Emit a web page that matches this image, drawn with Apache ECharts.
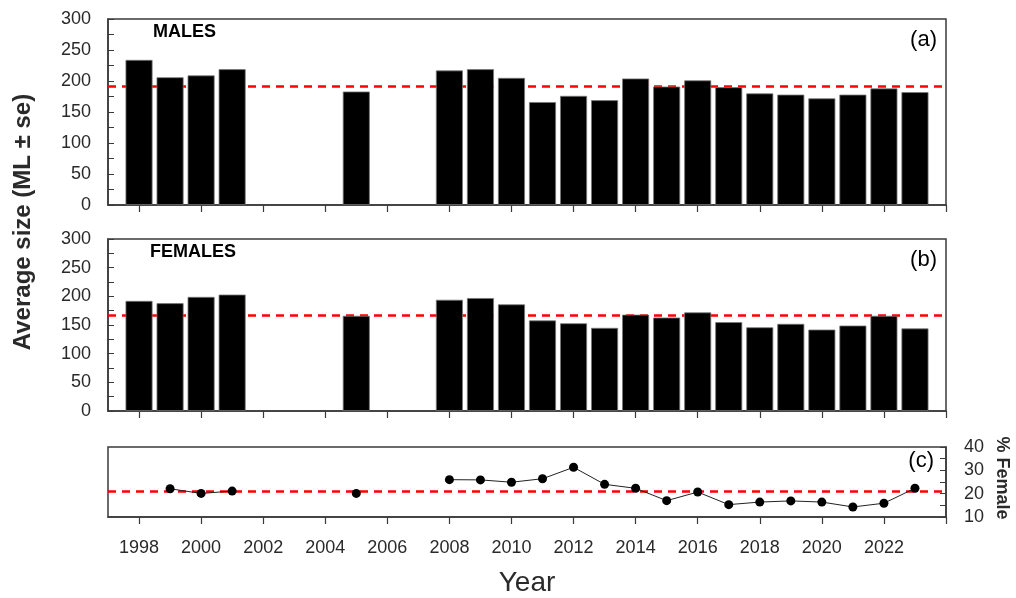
<!DOCTYPE html>
<html><head><meta charset="utf-8">
<script src="https://cdn.jsdelivr.net/npm/echarts@6/dist/echarts.min.js"></script>
<style>html,body{margin:0;padding:0;background:#fff}#c{width:1016px;height:598px}</style>
</head><body><div id="c"></div>
<script>
// ---- data ----
const barYears = [1998,1999,2000,2001,2005,2008,2009,2010,2011,2012,2013,2014,2015,2016,2017,2018,2019,2020,2021,2022,2023];
const males    = [234,206,209,219,183,217,219,205,166,176,169,204,191,201,190,180,178,172,178,188,182];
const females  = [192,188,199,203,166,194,197,186,158,153,145,168,163,172,155,146,152,142,149,166,144];
const pctYears = [1999,2000,2001,2005,2008,2009,2010,2011,2012,2013,2014,2015,2016,2017,2018,2019,2020,2021,2022,2023];
const pctFemale= [22.1,20.1,21.1,20.1,26.0,25.9,24.9,26.4,31.3,24.0,22.3,17.0,20.7,15.3,16.4,16.9,16.4,14.3,15.9,22.3];
const maleMean = 192;
const femaleMean = 167.5;
const pctMean = 21;
const yearTicks  = [1998,2000,2002,2004,2006,2008,2010,2012,2014,2016,2018,2020,2022,2024];
const yearLabels = [1998,2000,2002,2004,2006,2008,2010,2012,2014,2016,2018,2020,2022];
const sizeTicks = [0,50,100,150,200,250,300];
const pctTicks = [10,20,30,40];

// ---- helpers ----
const pair = (xs, ys) => xs.map((x, i) => [x, ys[i]]);
function withGaps(xs, ys) {
  const out = [];
  xs.forEach((x, i) => {
    if (i > 0 && x - xs[i - 1] > 1) out.push([xs[i - 1] + 1, '-']);
    out.push([x, ys[i]]);
  });
  return out;
}
const AX = '#3a3a3a';
const TXT = '#2a2a2a';
const FONT = 'Liberation Sans, Arial, sans-serif';
const L = 108, R = 70;

function xAxisDef(gridIndex, showLabels) {
  return {
    type: 'value', gridIndex, min: 1997, max: 2024,
    axisLine: { show: true, onZero: false, lineStyle: { color: AX, width: 1.5 } },
    axisTick: { show: true, inside: false, length: 7, customValues: yearTicks, lineStyle: { color: AX, width: 1.2 } },
    axisLabel: { show: showLabels, customValues: yearLabels, margin: 22, fontSize: 18, color: TXT, fontFamily: FONT,
                 formatter: v => String(v) },
    splitLine: { show: false }
  };
}
function sizeAxis(gridIndex) {
  return {
    type: 'value', gridIndex, min: sizeTicks[0], max: sizeTicks[sizeTicks.length - 1], interval: 50,
    axisLine: { show: true, lineStyle: { color: AX, width: 1.5 } },
    axisTick: { show: true, inside: true, length: 6, lineStyle: { color: AX, width: 1 } },
    minorTick: { show: true, splitNumber: 2, length: 6, lineStyle: { color: AX, width: 1 } },
    axisLabel: { margin: 17, fontSize: 18, color: TXT, fontFamily: FONT },
    splitLine: { show: false }
  };
}
function meanLine(v) {
  return {
    silent: true, symbol: 'none', z: 1,
    label: { show: false },
    lineStyle: { color: '#ff0000', width: 2.5, type: [8, 6] },
    data: [{ yAxis: v }]
  };
}
const barStyle = { color: '#000', borderColor: '#777', borderWidth: 0.8 };

const chart = echarts.init(document.getElementById('c'), null, { renderer: 'canvas' });
chart.setOption({
  animation: false,
  backgroundColor: '#fff',
  grid: [
    { left: L, right: R, top: 19, height: 186, show: true, borderColor: AX, borderWidth: 1.5, backgroundColor: 'transparent' },
    { left: L, right: R, top: 239, height: 172, show: true, borderColor: AX, borderWidth: 1.5, backgroundColor: 'transparent' },
    { left: L, right: R, top: 447, height: 70, show: true, borderColor: AX, borderWidth: 1.5, backgroundColor: 'transparent' }
  ],
  xAxis: [xAxisDef(0, false), xAxisDef(1, false), xAxisDef(2, true)],
  yAxis: [
    sizeAxis(0),
    sizeAxis(1),
    {
      type: 'value', gridIndex: 2, position: 'right', min: pctTicks[0], max: pctTicks[pctTicks.length - 1], interval: 10,
      axisLine: { show: true, lineStyle: { color: AX, width: 1.5 } },
      axisTick: { show: true, inside: true, length: 6, lineStyle: { color: AX, width: 1 } },
      minorTick: { show: true, splitNumber: 2, length: 6, lineStyle: { color: AX, width: 1 } },
      axisLabel: { margin: 18, fontSize: 18, color: TXT, fontFamily: FONT },
      splitLine: { show: false }
    }
  ],
  series: [
    { type: 'bar', xAxisIndex: 0, yAxisIndex: 0, barWidth: 27, itemStyle: barStyle, z: 2,
      data: pair(barYears, males), markLine: meanLine(maleMean) },
    { type: 'bar', xAxisIndex: 1, yAxisIndex: 1, barWidth: 27, itemStyle: barStyle, z: 2,
      data: pair(barYears, females), markLine: meanLine(femaleMean) },
    { type: 'line', xAxisIndex: 2, yAxisIndex: 2, z: 3, connectNulls: false,
      symbol: 'circle', symbolSize: 9, showSymbol: true,
      itemStyle: { color: '#000' }, lineStyle: { color: '#222', width: 1 },
      data: withGaps(pctYears, pctFemale), markLine: meanLine(pctMean) }
  ],
  graphic: [
    { type: 'text', left: 153, top: 23, style: { text: 'MALES', font: 'bold 18px ' + FONT, fill: '#000' } },
    { type: 'text', left: 150, top: 243, style: { text: 'FEMALES', font: 'bold 18px ' + FONT, fill: '#000' } },
    { type: 'text', right: 79, top: 29, style: { text: '(a)', font: '22px ' + FONT, fill: '#000' } },
    { type: 'text', right: 79, top: 249, style: { text: '(b)', font: '22px ' + FONT, fill: '#000' } },
    { type: 'text', right: 82, top: 450, style: { text: '(c)', font: '22px ' + FONT, fill: '#000' } },
    { type: 'text', x: 23, y: 222, rotation: Math.PI / 2,
      style: { text: 'Average size (ML \u00b1 se)', font: 'bold 24px ' + FONT, fill: TXT, align: 'center', verticalAlign: 'middle' } },
    { type: 'text', x: 1002, y: 478, rotation: -Math.PI / 2,
      style: { text: '% Female', font: 'bold 18px ' + FONT, fill: TXT, align: 'center', verticalAlign: 'middle' } },
    { type: 'text', x: 527, y: 583,
      style: { text: 'Year', font: '28px ' + FONT, fill: TXT, align: 'center', verticalAlign: 'middle' } }
  ]
});
</script>
</body></html>
